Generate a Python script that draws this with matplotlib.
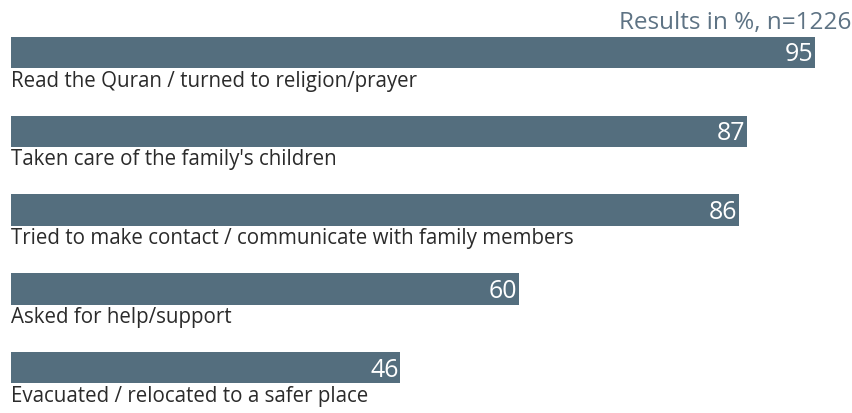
import numpy as np
from matplotlib import pyplot as plt

# survey answers, top to bottom
actions = [
    "Read the Quran / turned to religion/prayer",
    "Taken care of the family's children",
    "Tried to make contact / communicate with family members",
    "Asked for help/support",
    "Evacuated / relocated to a safer place",
]
percent = [95, 87, 86, 60, 46]

bar_color = "#546e7e"
text_color = "#2b2b2b"

plt.rcParams['font.family'] = ['Open Sans', 'DejaVu Sans']

fig = plt.figure(figsize=(8.53, 4.14), dpi=100)
ax = fig.add_axes([0, 0, 1, 1])

pos = np.arange(len(actions))
ax.barh(pos, percent, height=0.40, color=bar_color, left=0)

for i, (name, val) in enumerate(zip(actions, percent)):
    # value inside the bar end
    ax.text(val - 0.2, i + 0.10, str(val), ha='right', va='baseline',
            color='white', fontsize=18)
    # category label under the bar
    ax.text(0, i + 0.42, name, ha='left', va='baseline',
            color=text_color, fontsize=14.8)

ax.text(99.3, -0.307, "Results in %, n=1226", ha='right', va='baseline',
        color="#5e7384", fontsize=17.5)

ax.set_xlim(-1.30, 99.49)
ax.set_ylim(4.575, -0.679)
ax.axis('off')

plt.savefig("out.png", dpi=100)
